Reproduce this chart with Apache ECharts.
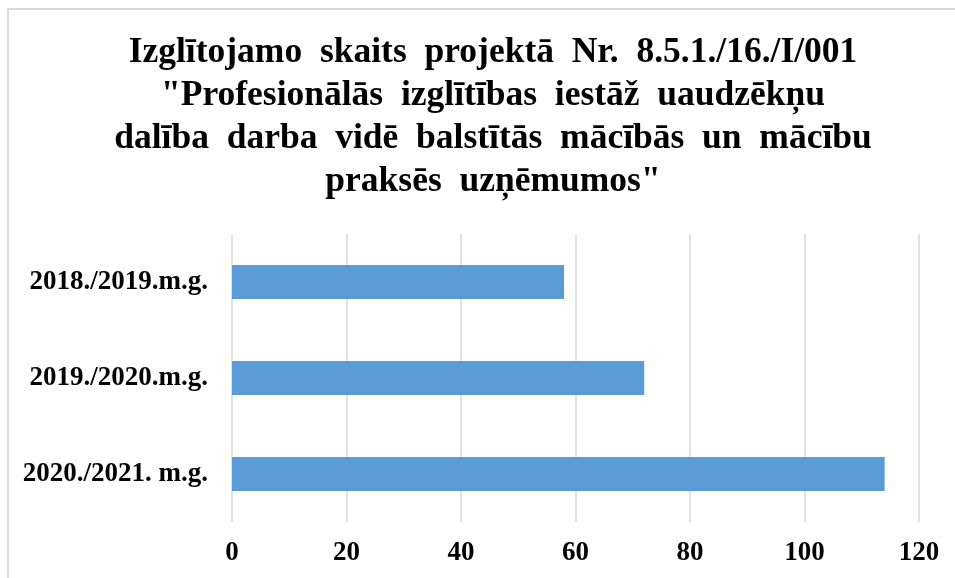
<!DOCTYPE html>
<html>
<head>
<meta charset="utf-8">
<script src="https://cdn.jsdelivr.net/npm/echarts@6/dist/echarts.min.js"></script>
<style>
html,body{margin:0;padding:0;background:#fff;}
#chart{width:955px;height:578px;}
</style>
</head>
<body>
<div id="chart"></div>
<script>
var titleLines = [
  'Izglītojamo  skaits  projektā  Nr.  8.5.1./16./I/001',
  '"Profesionālās  izglītības  iestāž  uaudzēkņu',
  'dalība  darba  vidē  balstītās  mācībās  un  mācību',
  'praksēs  uzņēmumos"'
];
var categories = ['2018./2019.m.g.', '2019./2020.m.g.', '2020./2021. m.g.'];
var values = [58, 72, 114];
var xTicks = { min: 0, max: 120, interval: 20 };

var serif = '"Liberation Serif", "Times New Roman", serif';
var chart = echarts.init(document.getElementById('chart'));
chart.setOption({
  animation: false,
  backgroundColor: '#fff',
  graphic: [{
    type: 'rect',
    shape: { x: 8, y: 9, width: 990, height: 620 },
    style: { fill: 'none', stroke: '#d9d9d9', lineWidth: 2 },
    silent: true
  }],
  title: {
    text: titleLines.join('\n'),
    left: 488,
    top: 26,
    textAlign: 'center',
    textStyle: {
      fontFamily: serif,
      fontWeight: 'bold',
      fontSize: 35.5,
      lineHeight: 43,
      color: '#000'
    }
  },
  grid: { left: 232, right: 36, top: 234, bottom: 56, containLabel: false },
  xAxis: {
    type: 'value',
    min: xTicks.min,
    max: xTicks.max,
    interval: xTicks.interval,
    axisLine: { show: false },
    axisTick: { show: false },
    splitLine: { show: true, lineStyle: { color: '#d9d9d9', width: 1.5 } },
    axisLabel: {
      margin: 18,
      fontFamily: serif,
      fontWeight: 'bold',
      fontSize: 27,
      color: '#000'
    }
  },
  yAxis: {
    type: 'category',
    data: categories,
    inverse: true,
    axisLine: { show: false },
    axisTick: { show: false },
    splitLine: { show: false },
    axisLabel: {
      margin: 24,
      fontFamily: serif,
      fontWeight: 'bold',
      fontSize: 27,
      color: '#000'
    }
  },
  series: [{
    type: 'bar',
    data: values,
    barWidth: 34,
    itemStyle: { color: '#5B9BD5' }
  }]
});
</script>
</body>
</html>
